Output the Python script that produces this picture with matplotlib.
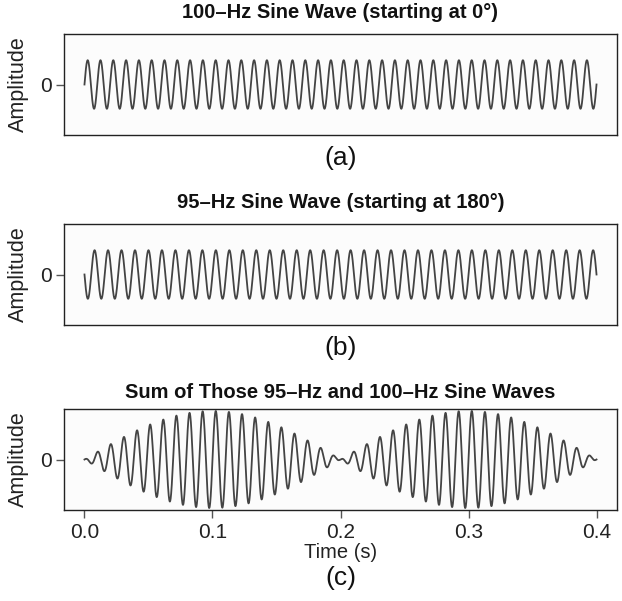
import numpy as np
import matplotlib
matplotlib.use("Agg")
import matplotlib.pyplot as plt

plt.rcParams['font.family'] = ['Liberation Sans', 'DejaVu Sans']

# wave definitions
freqs_hz = [100, 95]
phases_deg = [0, 180]
duration_s = 0.4
n_samples = 4001

titles = ['100\u2013Hz Sine Wave (starting at 0\u00b0)',
          '95\u2013Hz Sine Wave (starting at 180\u00b0)',
          'Sum of Those 95\u2013Hz and 100\u2013Hz Sine Waves']
panel_labels = ['(a)', '(b)', '(c)']
xticks = [0.0, 0.1, 0.2, 0.3, 0.4]
xticklabels = ['0.0', '0.1', '0.2', '0.3', '0.4']

t = np.linspace(0, duration_s, n_samples)
w1 = np.sin(2 * np.pi * freqs_hz[0] * t + np.deg2rad(phases_deg[0]))
w2 = np.sin(2 * np.pi * freqs_hz[1] * t + np.deg2rad(phases_deg[1]))
waves = [w1, w2, w1 + w2]

fig = plt.figure(figsize=(6.22, 6.01), dpi=100)
W, H = 622, 601

# box tops / bottoms in pixels
boxes = [(34, 135), (224, 325), (409, 510)]
left_px, right_px = 64, 617
title_y = [13, 203, 392]
label_y = [158, 348, 578]

line_col = '#444444'
for i, (top, bot) in enumerate(boxes):
    ax = fig.add_axes([left_px / W, 1 - bot / H, (right_px - left_px) / W, (bot - top) / H])
    ax.set_facecolor('#fcfcfc')
    ax.plot(t, waves[i], color=line_col, lw=1.3)
    ax.set_xlim(-0.016, 0.416)
    ax.set_ylim(-2.08, 2.08)
    ax.set_yticks([0])
    ax.set_yticklabels(['0'])
    ax.set_ylabel('Amplitude', fontsize=15.5, color='#222222', labelpad=8)
    ax.tick_params(axis='both', length=6, width=1, color='#555555',
                   labelsize=15, labelcolor='#222222', pad=3)
    for s in ax.spines.values():
        s.set_color('#222222')
        s.set_linewidth(1.0)
    if i < 2:
        ax.set_xticks([])
    else:
        ax.set_xticks(xticks)
        ax.set_xticklabels(xticklabels)
        ax.set_xlabel('Time (s)', fontsize=14.5, color='#222222', labelpad=1)
    cx = (left_px + right_px) / 2 / W
    fig.text(cx, 1 - title_y[i] / H, titles[i], ha='center', va='center',
             fontsize=14.5, fontweight='bold', color='#111111')
    fig.text(cx, 1 - label_y[i] / H, panel_labels[i], ha='center', va='center',
             fontsize=19, color='#111111')

fig.savefig('out.png', dpi=100)
